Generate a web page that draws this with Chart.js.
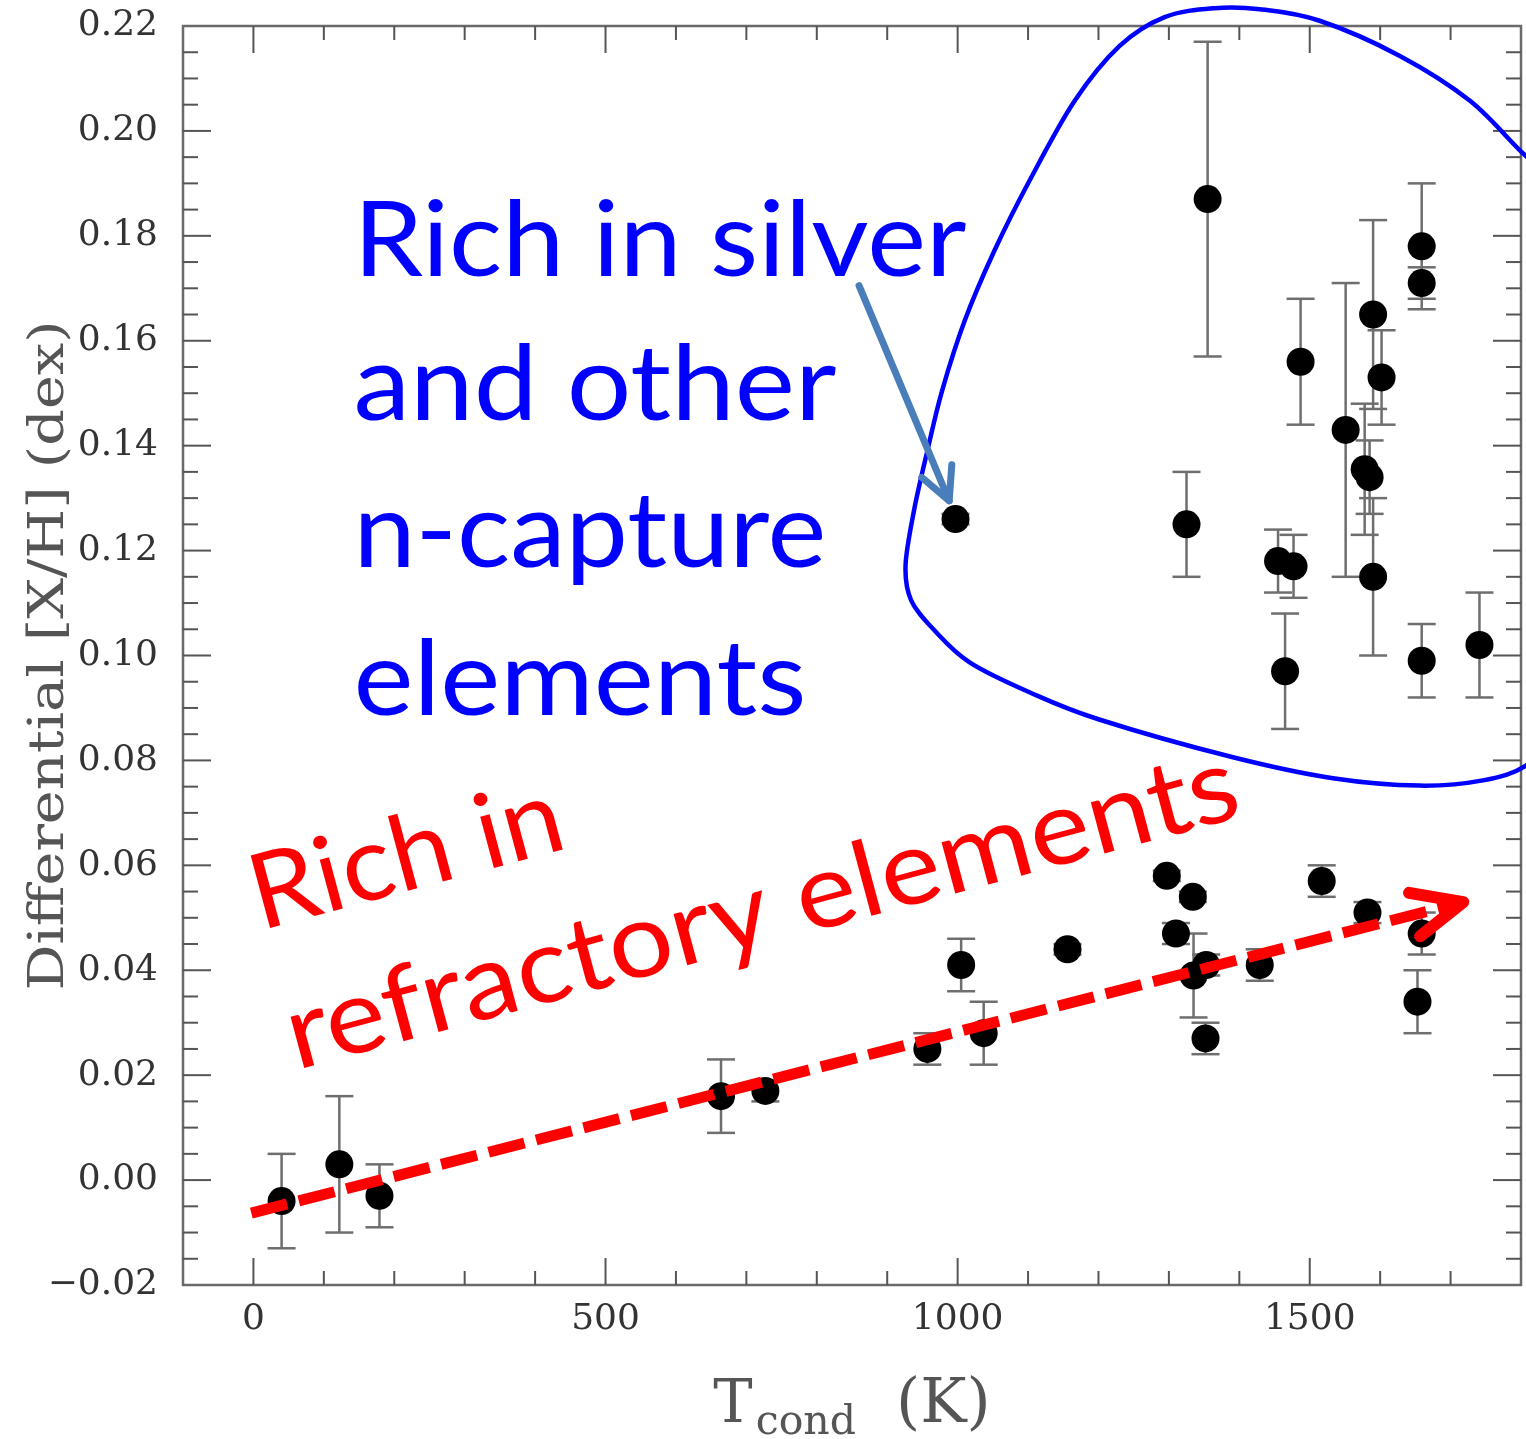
<!DOCTYPE html>
<html>
<head>
<meta charset="utf-8">
<script src="https://cdn.jsdelivr.net/npm/chart.js@4.4.1/dist/chart.umd.min.js"></script>
<style>
  html, body { margin: 0; padding: 0; background: #ffffff; }
  #wrap { width: 1526px; height: 1439px; }
</style>
</head>
<body>
<div id="wrap"><canvas id="c" width="1526" height="1439"></canvas></div>
<script>
// Condensation temperature of each element (K)
const tcond = [40, 122, 179, 664, 727, 957, 1005, 1037, 1156, 1297,
               1310, 1334, 1335, 1353, 1352, 1429, 1517, 1582, 1659, 1653,
               997, 1325, 1355, 1455, 1477, 1465, 1487, 1551, 1578, 1585,
               1590, 1602, 1590, 1659, 1659, 1659, 1741];
// Differential abundance [X/H] (dex)
const dexValues = [-0.004, 0.003, -0.003, 0.016, 0.017, 0.025, 0.041, 0.028, 0.044, 0.058,
                   0.047, 0.054, 0.039, 0.041, 0.027, 0.041, 0.057, 0.051, 0.047, 0.034,
                   0.126, 0.125, 0.187, 0.118, 0.117, 0.097, 0.156, 0.143, 0.1355, 0.134,
                   0.165, 0.153, 0.115, 0.178, 0.171, 0.099, 0.102];
// One-sigma uncertainty of each abundance (dex)
const dexErrors = [0.009, 0.013, 0.006, 0.007, 0.002, 0.003, 0.005, 0.006, 0.001, 0.001,
                   0.002, 0.001, 0.008, 0.002, 0.003, 0.003, 0.003, 0.002, 0.004, 0.006,
                   0.001, 0.010, 0.030, 0.006, 0.006, 0.011, 0.012, 0.028, 0.0125, 0.007,
                   0.018, 0.009, 0.015, 0.012, 0.003, 0.007, 0.010];

// Axis ticks
const xMajorTicks = [0, 500, 1000, 1500];
const xTickLabels = ['0', '500', '1000', '1500'];
const yMajorTicks = [-0.02, 0, 0.02, 0.04, 0.06, 0.08, 0.10, 0.12, 0.14, 0.16, 0.18, 0.20, 0.22];
const yTickLabels = ['\u22120.02', '0.00', '0.02', '0.04', '0.06', '0.08', '0.10', '0.12',
                     '0.14', '0.16', '0.18', '0.20', '0.22'];

// Trend arrow for the refractory elements (K, dex)
const trendT = [-3, 1718];
const trendDex = [-0.0063, 0.053];

// Pointer towards the silver point (K, dex)
const pointerT = [860, 988];
const pointerDex = [0.1705, 0.1295];

// Outline around the n-capture group (K, dex)
const groupOutlineT = [1365, 1294, 1230, 1166, 1102, 1052, 1010, 978, 957, 938, 926, 934, 967,
                       1017, 1102, 1201, 1391, 1533, 1656, 1746, 1807, 1856, 1898, 1856, 1807,
                       1728, 1628, 1514, 1429];
const groupOutlineDex = [0.2234, 0.2217, 0.2162, 0.2057, 0.1905, 0.1771, 0.1638, 0.1505, 0.1390,
                         0.1276, 0.1171, 0.1105, 0.1048, 0.0987, 0.0930, 0.0878, 0.0806, 0.0766,
                         0.0752, 0.0762, 0.0790, 0.0857, 0.1390, 0.1905, 0.1952, 0.2057, 0.2143,
                         0.2210, 0.2232];

// Annotation text: lines, anchors (K, dex) and line lengths (px)
const silverLines = ['Rich in silver', 'and other', 'n-capture', 'elements'];
const silverAnchorT = 142;
const silverBaselines = [0.1724, 0.1448, 0.1168, 0.0886];
const silverWidths = [613, 483, 473, 453];
const refractoryLines = ['Rich in', 'refractory elements'];
const refractoryAnchorT = [10, 61];
const refractoryAnchorDex = [0.0476, 0.0210];
const refractoryWidths = [320, 982];

const points = tcond.map((t, i) => ({ x: t, y: dexValues[i] }));
const trend = trendT.map((t, i) => ({ x: t, y: trendDex[i] }));

const SERIF = '"DejaVu Serif", "Liberation Serif", serif';
const ANNO = 'Lato, "Open Sans", "Noto Sans", sans-serif';

function seg(ctx, x1, y1, x2, y2) {
  ctx.beginPath(); ctx.moveTo(x1, y1); ctx.lineTo(x2, y2); ctx.stroke();
}

function arrowHead(ctx, fromX, fromY, tipX, tipY, len, spread) {
  const back = Math.atan2(fromY - tipY, fromX - tipX);
  ctx.beginPath();
  ctx.moveTo(tipX + len * Math.cos(back + spread), tipY + len * Math.sin(back + spread));
  ctx.lineTo(tipX, tipY);
  ctx.lineTo(tipX + len * Math.cos(back - spread), tipY + len * Math.sin(back - spread));
  ctx.stroke();
}

function closedSpline(ctx, pts) {
  const n = pts.length;
  ctx.beginPath();
  ctx.moveTo(pts[0][0], pts[0][1]);
  for (let i = 0; i < n; i++) {
    const p0 = pts[(i - 1 + n) % n], p1 = pts[i], p2 = pts[(i + 1) % n], p3 = pts[(i + 2) % n];
    ctx.bezierCurveTo(p1[0] + (p2[0] - p0[0]) / 6, p1[1] + (p2[1] - p0[1]) / 6,
                      p2[0] - (p3[0] - p1[0]) / 6, p2[1] - (p3[1] - p1[1]) / 6,
                      p2[0], p2[1]);
  }
  ctx.closePath();
  ctx.stroke();
}

// text squeezed or stretched along its baseline to a given length
function fittedText(ctx, text, x, y, width, angle) {
  ctx.save();
  ctx.translate(x, y);
  if (angle) ctx.rotate(angle);
  ctx.scale(width / ctx.measureText(text).width, 1);
  ctx.fillText(text, 0, 0);
  ctx.restore();
}

// Error bars under the markers
const errorBars = {
  id: 'errorBars',
  beforeDatasetsDraw(chart) {
    const { ctx, scales: { x, y } } = chart;
    ctx.save();
    ctx.strokeStyle = '#6e6e6e';
    ctx.lineWidth = 2.5;
    for (let i = 0; i < tcond.length; i++) {
      const px = x.getPixelForValue(tcond[i]);
      const top = y.getPixelForValue(dexValues[i] + dexErrors[i]);
      const bot = y.getPixelForValue(dexValues[i] - dexErrors[i]);
      seg(ctx, px, top, px, bot);
      seg(ctx, px - 14, top, px + 14, top);
      seg(ctx, px - 14, bot, px + 14, bot);
    }
    ctx.restore();
  }
};

// Frame with inward ticks on all four sides, axis titles and annotations
const decorations = {
  id: 'decorations',
  afterDatasetsDraw(chart) {
    const { ctx, chartArea: a, scales: { x, y } } = chart;
    ctx.save();

    // frame
    ctx.strokeStyle = '#6a6a6a';
    ctx.lineWidth = 2.5;
    ctx.strokeRect(a.left, a.top, a.right - a.left, a.bottom - a.top);

    // ticks
    ctx.strokeStyle = '#555555';
    ctx.lineWidth = 2;
    for (let t = 0; t < 1800; t += 100) {
      const px = x.getPixelForValue(t);
      const len = t % 500 === 0 ? 27 : 14;
      seg(ctx, px, a.bottom, px, a.bottom - len);
      seg(ctx, px, a.top, px, a.top + len);
    }
    for (let k = -3; k < 44; k++) {
      const py = y.getPixelForValue(k * 0.005);
      const len = k % 4 === 0 ? 28 : 15;
      seg(ctx, a.left, py, a.left + len, py);
      seg(ctx, a.right, py, a.right - len, py);
    }

    // y title
    ctx.fillStyle = '#555555';
    ctx.font = `48px ${SERIF}`;
    ctx.textAlign = 'center';
    ctx.textBaseline = 'alphabetic';
    ctx.save();
    ctx.translate(63, (a.top + a.bottom) / 2);
    ctx.rotate(-Math.PI / 2);
    const yTitle = 'Differential [X/H] (dex)';
    ctx.scale(670 / ctx.measureText(yTitle).width, 1);
    ctx.fillText(yTitle, 0, 0);
    ctx.restore();

    // x title with subscript
    ctx.textAlign = 'left';
    ctx.font = `59px ${SERIF}`;
    const wT = ctx.measureText('T').width;
    ctx.font = `62px ${SERIF}`;
    const wK = ctx.measureText('(K)').width;
    ctx.font = `41px ${SERIF}`;
    const wSub = ctx.measureText('cond').width;
    const gap1 = 3, gap2 = 40;
    const total = wT + gap1 + wSub + gap2 + wK;
    let cx = (a.left + a.right) / 2 - total / 2;
    ctx.font = `59px ${SERIF}`;
    ctx.fillText('T', cx, 1422);
    cx += wT + gap1;
    ctx.font = `41px ${SERIF}`;
    ctx.fillText('cond', cx, 1434);
    cx += wSub + gap2;
    ctx.font = `62px ${SERIF}`;
    ctx.fillText('(K)', cx, 1422);

    // outline round the n-capture group
    ctx.strokeStyle = '#0000ff';
    ctx.lineWidth = 4.5;
    closedSpline(ctx, groupOutlineT.map((t, i) => [x.getPixelForValue(t), y.getPixelForValue(groupOutlineDex[i])]));

    // annotation font
    ctx.font = `${75 / 0.7165}px ${ANNO}`;
    ctx.textAlign = 'left';
    ctx.textBaseline = 'alphabetic';

    // blue annotation
    ctx.fillStyle = '#0000ff';
    silverLines.forEach((line, i) => {
      fittedText(ctx, line, x.getPixelForValue(silverAnchorT), y.getPixelForValue(silverBaselines[i]),
                 silverWidths[i], 0);
    });

    // pointer arrow
    ctx.strokeStyle = '#4a7ebb';
    ctx.lineWidth = 7;
    ctx.lineCap = 'round';
    ctx.lineJoin = 'round';
    const p0x = x.getPixelForValue(pointerT[0]), p0y = y.getPixelForValue(pointerDex[0]);
    const p1x = x.getPixelForValue(pointerT[1]), p1y = y.getPixelForValue(pointerDex[1]);
    seg(ctx, p0x, p0y, p1x, p1y);
    arrowHead(ctx, p0x, p0y, p1x, p1y, 36, 0.47);

    // head of the trend arrow
    ctx.strokeStyle = '#ff0000';
    ctx.lineWidth = 12;
    const t0x = x.getPixelForValue(trendT[0]), t0y = y.getPixelForValue(trendDex[0]);
    const t1x = x.getPixelForValue(trendT[1]), t1y = y.getPixelForValue(trendDex[1]);
    arrowHead(ctx, t0x, t0y, t1x, t1y, 55, 0.42);

    // red annotation
    ctx.fillStyle = '#ff0000';
    refractoryLines.forEach((line, i) => {
      fittedText(ctx, line, x.getPixelForValue(refractoryAnchorT[i]), y.getPixelForValue(refractoryAnchorDex[i]),
                 refractoryWidths[i], -15 * Math.PI / 180);
    });

    ctx.restore();
  }
};

new Chart(document.getElementById('c'), {
  data: {
    datasets: [
      {
        type: 'line',
        label: 'trend',
        data: trend,
        borderColor: '#ff0000',
        borderWidth: 11,
        borderDash: [37, 12],
        borderCapStyle: 'butt',
        pointRadius: 0,
        fill: false,
        order: 0,
        clip: false
      },
      {
        type: 'scatter',
        label: 'elements',
        data: points,
        backgroundColor: '#000000',
        borderWidth: 0,
        pointRadius: 14,
        pointHoverRadius: 14,
        order: 1
      }
    ]
  },
  options: {
    responsive: false,
    devicePixelRatio: 1,
    animation: false,
    events: [],
    layout: { autoPadding: false, padding: { top: 26, right: 5, left: 0, bottom: 0 } },
    plugins: { legend: { display: false }, tooltip: { enabled: false } },
    scales: {
      x: {
        type: 'linear',
        min: -100,
        max: 1800,
        grid: { display: false, drawTicks: false },
        border: { display: false },
        afterBuildTicks: s => { s.ticks = xMajorTicks.map(v => ({ value: v })); },
        afterFit: s => { s.height = 154; s.paddingLeft = 0; s.paddingRight = 0; },
        ticks: {
          autoSkip: false,
          maxRotation: 0,
          padding: 13,
          color: '#333333',
          font: { family: SERIF, size: 36 },
          callback: (v, i) => xTickLabels[i]
        }
      },
      y: {
        type: 'linear',
        min: -0.02,
        max: 0.22,
        grid: { display: false, drawTicks: false },
        border: { display: false },
        afterBuildTicks: s => { s.ticks = yMajorTicks.map(v => ({ value: v })); },
        afterFit: s => { s.width = 183; s.paddingTop = 0; s.paddingBottom = 0; },
        ticks: {
          autoSkip: false,
          padding: 25,
          color: '#333333',
          font: { family: SERIF, size: 36 },
          callback: (v, i) => yTickLabels[i]
        }
      }
    }
  },
  plugins: [errorBars, decorations]
});
</script>
</body>
</html>
